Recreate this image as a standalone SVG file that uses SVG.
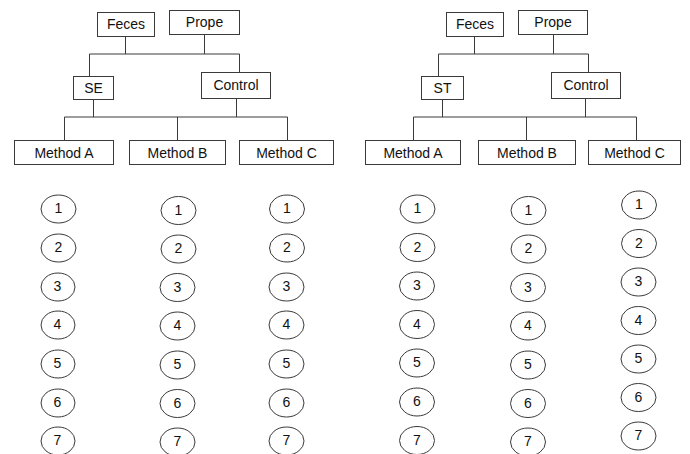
<svg xmlns="http://www.w3.org/2000/svg" width="690" height="454" viewBox="0 0 690 454">
<style>
.box{fill:#fff;stroke:#3a3a3a;stroke-width:1}
.ln{fill:none;stroke:#3a3a3a;stroke-width:1}
.c{fill:#fff;stroke:#3a3a3a;stroke-width:1}
text{font-family:"Liberation Sans",Arial,sans-serif;font-size:14px;fill:#111;text-anchor:middle}
.n{font-size:14px}
</style>
<rect width="690" height="454" fill="#fff"/>
<g id="connectors">
<path class="ln" d="M125.5 37V54M204.5 35V54M89.5 54H239.5M89.5 54V76M239.5 54V73M93.5 99V117M236.5 99V117M64.5 117H287.5M64.5 117V141M177.5 117V141M287.5 117V141"/>
<path class="ln" d="M474.5 37V54M553.5 35V54M438.5 54H588.5M438.5 54V76M588.5 54V73M442.5 99V117M585.5 99V117M413.5 117H636.5M413.5 117V141M526.5 117V141M636.5 117V141"/>
</g>
<g id="L-feces"><rect class="box" x="97.5" y="12.5" width="57" height="24"/><text x="126" y="29">Feces</text></g>
<g id="L-prope"><rect class="box" x="169.5" y="10.5" width="70" height="24"/><text x="204.5" y="27">Prope</text></g>
<g id="L-se"><rect class="box" x="73.5" y="76.5" width="40" height="23"/><text x="93.5" y="93">SE</text></g>
<g id="L-control"><rect class="box" x="201.5" y="72.5" width="69" height="26"/><text x="236" y="90">Control</text></g>
<g id="L-methodA"><rect class="box" x="14.5" y="140.5" width="99" height="24"/><text x="64" y="157.5">Method A</text></g>
<g id="L-methodB"><rect class="box" x="129.5" y="140.5" width="96" height="24"/><text x="177.5" y="157.5">Method B</text></g>
<g id="L-methodC"><rect class="box" x="239.5" y="140.5" width="94" height="24"/><text x="286.5" y="157.5">Method C</text></g>
<g id="R-feces"><rect class="box" x="446.5" y="12.5" width="57" height="24"/><text x="475" y="29">Feces</text></g>
<g id="R-prope"><rect class="box" x="518.5" y="10.5" width="69" height="24"/><text x="553" y="27">Prope</text></g>
<g id="R-st"><rect class="box" x="421.5" y="76.5" width="42" height="23"/><text x="442.5" y="93">ST</text></g>
<g id="R-control"><rect class="box" x="551.5" y="72.5" width="69" height="26"/><text x="586" y="90">Control</text></g>
<g id="R-methodA"><rect class="box" x="365.5" y="140.5" width="95" height="24"/><text x="413" y="157.5">Method A</text></g>
<g id="R-methodB"><rect class="box" x="478.5" y="140.5" width="97" height="24"/><text x="527" y="157.5">Method B</text></g>
<g id="R-methodC"><rect class="box" x="588.5" y="140.5" width="92" height="24"/><text x="634.5" y="157.5">Method C</text></g>
<g id="L-col1">
<ellipse class="c" cx="58.5" cy="209" rx="17.5" ry="14"/><text class="n" x="58.5" y="213">1</text>
<ellipse class="c" cx="58.5" cy="248" rx="17.5" ry="14"/><text class="n" x="58.5" y="252">2</text>
<ellipse class="c" cx="58" cy="287" rx="17" ry="14"/><text class="n" x="57.5" y="291">3</text>
<ellipse class="c" cx="58" cy="325" rx="17" ry="14"/><text class="n" x="57.5" y="329">4</text>
<ellipse class="c" cx="58" cy="364" rx="17" ry="14"/><text class="n" x="57.5" y="368">5</text>
<ellipse class="c" cx="58" cy="403" rx="17" ry="14"/><text class="n" x="57.5" y="407">6</text>
<ellipse class="c" cx="58" cy="441" rx="17" ry="14"/><text class="n" x="57.5" y="445">7</text>
</g>
<g id="L-col2">
<ellipse class="c" cx="178.5" cy="210.5" rx="17.5" ry="14"/><text class="n" x="178.5" y="214.5">1</text>
<ellipse class="c" cx="178.5" cy="249" rx="17.5" ry="14"/><text class="n" x="178.5" y="253">2</text>
<ellipse class="c" cx="177.5" cy="287.5" rx="17.5" ry="14"/><text class="n" x="177.5" y="291.5">3</text>
<ellipse class="c" cx="177.5" cy="326" rx="17.5" ry="14"/><text class="n" x="177.5" y="330">4</text>
<ellipse class="c" cx="177.5" cy="365" rx="17.5" ry="14"/><text class="n" x="177.5" y="369">5</text>
<ellipse class="c" cx="177.5" cy="403.5" rx="17.5" ry="14"/><text class="n" x="177.5" y="407.5">6</text>
<ellipse class="c" cx="177.5" cy="442" rx="17.5" ry="14"/><text class="n" x="177.5" y="446">7</text>
</g>
<g id="L-col3">
<ellipse class="c" cx="287" cy="209" rx="17.5" ry="14"/><text class="n" x="287" y="213">1</text>
<ellipse class="c" cx="287" cy="248" rx="17.5" ry="14"/><text class="n" x="287" y="252">2</text>
<ellipse class="c" cx="286.5" cy="287" rx="17.5" ry="14"/><text class="n" x="286.5" y="291">3</text>
<ellipse class="c" cx="286.5" cy="325" rx="17.5" ry="14"/><text class="n" x="286.5" y="329">4</text>
<ellipse class="c" cx="286.5" cy="364" rx="17.5" ry="14"/><text class="n" x="286.5" y="368">5</text>
<ellipse class="c" cx="286.5" cy="403" rx="17.5" ry="14"/><text class="n" x="286.5" y="407">6</text>
<ellipse class="c" cx="286.5" cy="441" rx="17.5" ry="14"/><text class="n" x="286.5" y="445">7</text>
</g>
<g id="R-col1">
<ellipse class="c" cx="417.5" cy="209" rx="17.5" ry="14"/><text class="n" x="417.5" y="213">1</text>
<ellipse class="c" cx="417.5" cy="247.5" rx="17.5" ry="14"/><text class="n" x="417.5" y="251.5">2</text>
<ellipse class="c" cx="417" cy="286" rx="17.5" ry="14"/><text class="n" x="417" y="290">3</text>
<ellipse class="c" cx="417" cy="324.5" rx="17.5" ry="14"/><text class="n" x="417" y="328.5">4</text>
<ellipse class="c" cx="417" cy="363" rx="17.5" ry="14"/><text class="n" x="417" y="367">5</text>
<ellipse class="c" cx="417" cy="402" rx="17.5" ry="14"/><text class="n" x="417" y="406">6</text>
<ellipse class="c" cx="417" cy="440.5" rx="17.5" ry="14"/><text class="n" x="417" y="444.5">7</text>
</g>
<g id="R-col2">
<ellipse class="c" cx="528.5" cy="210.5" rx="17.5" ry="14"/><text class="n" x="528.5" y="214.5">1</text>
<ellipse class="c" cx="528.5" cy="249" rx="17.5" ry="14"/><text class="n" x="528.5" y="253">2</text>
<ellipse class="c" cx="528" cy="287.5" rx="17.5" ry="14"/><text class="n" x="528" y="291.5">3</text>
<ellipse class="c" cx="528" cy="326" rx="17.5" ry="14"/><text class="n" x="528" y="330">4</text>
<ellipse class="c" cx="528" cy="365" rx="17.5" ry="14"/><text class="n" x="528" y="369">5</text>
<ellipse class="c" cx="528" cy="403.5" rx="17.5" ry="14"/><text class="n" x="528" y="407.5">6</text>
<ellipse class="c" cx="528" cy="442" rx="17.5" ry="14"/><text class="n" x="528" y="446">7</text>
</g>
<g id="R-col3">
<ellipse class="c" cx="639" cy="205" rx="17.5" ry="14"/><text class="n" x="639" y="209">1</text>
<ellipse class="c" cx="639" cy="243.5" rx="17.5" ry="14"/><text class="n" x="639" y="247.5">2</text>
<ellipse class="c" cx="638.5" cy="282" rx="17.5" ry="14"/><text class="n" x="638.5" y="286">3</text>
<ellipse class="c" cx="638.5" cy="320.5" rx="17.5" ry="14"/><text class="n" x="638.5" y="324.5">4</text>
<ellipse class="c" cx="638.5" cy="359" rx="17.5" ry="14"/><text class="n" x="638.5" y="363">5</text>
<ellipse class="c" cx="638.5" cy="397.5" rx="17.5" ry="14"/><text class="n" x="638.5" y="401.5">6</text>
<ellipse class="c" cx="638.5" cy="436" rx="17.5" ry="14"/><text class="n" x="638.5" y="440">7</text>
</g>
</svg>
